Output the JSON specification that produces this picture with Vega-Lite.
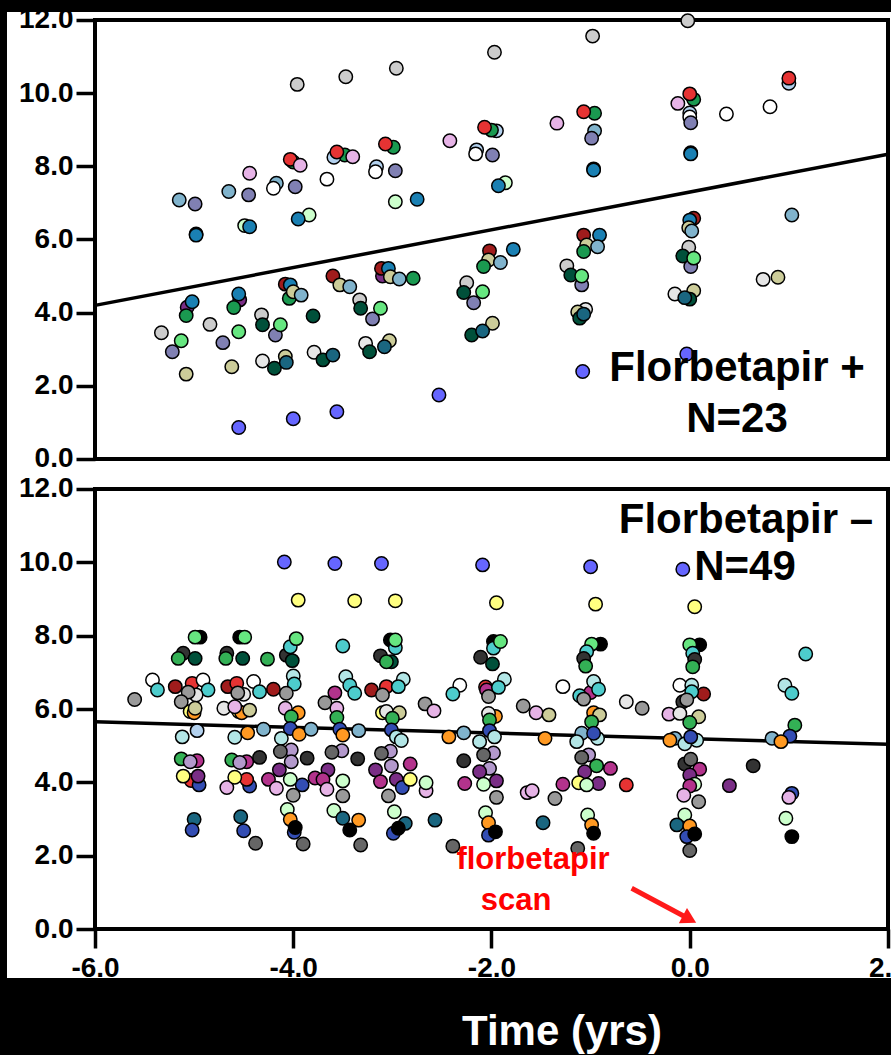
{
"$schema":"https://vega.github.io/schema/vega-lite/v6.json",
"width":891,"height":1055,"autosize":{"type":"none"},"padding":0,
"background":"black",
"config":{"view":{"stroke":null},"axis":{"labelFont":"Liberation Sans","labelFontWeight":"bold","labelFontSize":28,"labelColor":"black","tickColor":"black","tickWidth":3.5,"tickSize":19,"domain":false,"grid":false,"labelFlush":false,"labelOverlap":false}},
"datasets":{
"top":[
{"x":-3.96,"y":10.24,"c":"gray"},{"x":-3.47,"y":10.45,"c":"gray"},{"x":-2.96,"y":10.68,"c":"gray"},{"x":-2.42,"y":8.70,"c":"pink"},
{"x":-2.99,"y":8.52,"c":"green"},{"x":-3.07,"y":8.61,"c":"red"},
{"x":-3.48,"y":8.31,"c":"green"},{"x":-3.59,"y":8.25,"c":"lightblue2"},{"x":-3.56,"y":8.39,"c":"red"},{"x":-3.40,"y":8.26,"c":"pink"},
{"x":-4.00,"y":8.12,"c":"green"},{"x":-4.03,"y":8.19,"c":"red"},{"x":-3.93,"y":8.03,"c":"pink"},
{"x":-4.44,"y":7.81,"c":"pink"},
{"x":-3.16,"y":7.99,"c":"lightblue2"},{"x":-3.17,"y":7.85,"c":"white"},{"x":-2.97,"y":7.88,"c":"purple"},
{"x":-3.66,"y":7.65,"c":"white"},
{"x":-4.65,"y":7.31,"c":"steel"},{"x":-4.45,"y":7.22,"c":"purple"},
{"x":-4.17,"y":7.54,"c":"steel"},{"x":-4.20,"y":7.40,"c":"white"},{"x":-3.98,"y":7.44,"c":"purple"},
{"x":-5.15,"y":7.08,"c":"steel"},{"x":-4.99,"y":6.97,"c":"purple"},
{"x":-2.97,"y":7.03,"c":"palegreen"},{"x":-2.75,"y":7.10,"c":"blue"},
{"x":-4.98,"y":6.15,"c":"black"},{"x":-4.98,"y":6.12,"c":"blue"},
{"x":-4.49,"y":6.38,"c":"palegreen"},{"x":-4.44,"y":6.35,"c":"blue"},
{"x":-3.84,"y":6.67,"c":"palegreen"},{"x":-3.95,"y":6.56,"c":"blue"},
{"x":-5.07,"y":4.15,"c":"darkpurple"},{"x":-5.02,"y":4.30,"c":"blue"},{"x":-5.08,"y":3.92,"c":"green"},
{"x":-5.33,"y":3.45,"c":"gray"},{"x":-5.13,"y":3.23,"c":"lightgreen"},{"x":-5.22,"y":2.93,"c":"purple"},{"x":-5.08,"y":2.32,"c":"khaki"},
{"x":-4.84,"y":3.68,"c":"gray"},
{"x":-4.54,"y":4.35,"c":"darkpurple"},{"x":-4.55,"y":4.51,"c":"blue"},{"x":-4.60,"y":4.14,"c":"green"},
{"x":-4.55,"y":3.48,"c":"lightgreen"},{"x":-4.71,"y":3.18,"c":"purple"},{"x":-4.62,"y":2.52,"c":"khaki"},
{"x":-4.32,"y":3.94,"c":"gray"},{"x":-4.18,"y":3.39,"c":"purple"},{"x":-4.31,"y":3.67,"c":"darkgreen"},{"x":-4.13,"y":3.67,"c":"lightgreen"},
{"x":-4.31,"y":2.68,"c":"lightgray"},{"x":-4.08,"y":2.80,"c":"khaki"},{"x":-4.19,"y":2.48,"c":"darkgreen"},{"x":-4.07,"y":2.64,"c":"teal"},
{"x":-4.08,"y":4.78,"c":"darkred"},{"x":-4.03,"y":4.76,"c":"blue"},{"x":-4.04,"y":4.39,"c":"green"},{"x":-4.00,"y":4.57,"c":"khaki"},{"x":-3.92,"y":4.48,"c":"steel"},
{"x":-3.80,"y":3.91,"c":"darkgreen"},
{"x":-3.79,"y":2.92,"c":"lightgray"},{"x":-3.70,"y":2.71,"c":"darkgreen"},{"x":-3.60,"y":2.84,"c":"teal"},
{"x":-3.60,"y":5.00,"c":"darkred"},{"x":-3.53,"y":4.76,"c":"khaki"},{"x":-3.43,"y":4.71,"c":"steel"},
{"x":-3.33,"y":4.35,"c":"gray"},{"x":-3.20,"y":3.83,"c":"purple"},{"x":-3.32,"y":4.12,"c":"darkgreen"},{"x":-3.12,"y":4.12,"c":"lightgreen"},
{"x":-3.27,"y":3.16,"c":"lightgray"},{"x":-3.03,"y":3.23,"c":"khaki"},{"x":-3.23,"y":2.93,"c":"darkgreen"},{"x":-3.08,"y":3.07,"c":"teal"},
{"x":-3.10,"y":5.00,"c":"darkpurple"},{"x":-3.11,"y":5.21,"c":"darkred"},{"x":-3.04,"y":5.21,"c":"blue"},{"x":-3.02,"y":4.98,"c":"khaki"},{"x":-2.93,"y":4.92,"c":"steel"},{"x":-2.79,"y":4.94,"c":"green"},
{"x":-4.55,"y":0.86,"c":"peri"},{"x":-4.00,"y":1.10,"c":"peri"},{"x":-3.56,"y":1.29,"c":"peri"},{"x":-2.53,"y":1.75,"c":"peri"},
{"x":-1.97,"y":11.12,"c":"gray"},{"x":-0.98,"y":11.56,"c":"gray"},{"x":-0.02,"y":11.98,"c":"gray"},
{"x":-1.95,"y":8.97,"c":"lightblue2"},{"x":-2.00,"y":8.99,"c":"green"},{"x":-2.07,"y":9.07,"c":"red"},
{"x":-2.15,"y":8.45,"c":"lightblue2"},{"x":-2.16,"y":8.34,"c":"white"},{"x":-1.99,"y":8.31,"c":"purple"},
{"x":-1.34,"y":9.18,"c":"pink"},
{"x":-0.96,"y":9.45,"c":"green"},{"x":-1.07,"y":9.49,"c":"red"},
{"x":-0.96,"y":8.97,"c":"steel"},{"x":-0.99,"y":8.77,"c":"purple"},
{"x":-0.97,"y":7.93,"c":"black"},{"x":-0.97,"y":7.90,"c":"blue"},
{"x":-1.86,"y":7.55,"c":"palegreen"},{"x":-1.93,"y":7.47,"c":"blue"},
{"x":0.04,"y":9.83,"c":"green"},{"x":0.00,"y":9.98,"c":"red"},{"x":-0.12,"y":9.72,"c":"pink"},
{"x":0.00,"y":9.46,"c":"lightblue2"},{"x":0.00,"y":9.35,"c":"white"},{"x":0.01,"y":9.19,"c":"purple"},
{"x":0.01,"y":8.37,"c":"black"},{"x":0.01,"y":8.34,"c":"blue"},
{"x":0.37,"y":9.43,"c":"white"},{"x":0.81,"y":9.63,"c":"white"},
{"x":1.00,"y":10.27,"c":"lightblue2"},{"x":1.00,"y":10.41,"c":"red"},
{"x":-2.02,"y":5.69,"c":"darkred"},{"x":-2.03,"y":5.44,"c":"khaki"},{"x":-2.08,"y":5.26,"c":"green"},{"x":-1.91,"y":5.37,"c":"steel"},
{"x":-1.78,"y":5.73,"c":"blue"},
{"x":-2.25,"y":4.82,"c":"gray"},{"x":-2.28,"y":4.55,"c":"darkgreen"},{"x":-2.18,"y":4.27,"c":"purple"},{"x":-2.09,"y":4.57,"c":"lightgreen"},
{"x":-1.99,"y":3.71,"c":"khaki"},{"x":-2.20,"y":3.39,"c":"darkgreen"},{"x":-2.09,"y":3.50,"c":"teal"},
{"x":-1.07,"y":6.12,"c":"darkred"},{"x":-0.91,"y":6.12,"c":"blue"},{"x":-1.04,"y":5.85,"c":"khaki"},{"x":-1.07,"y":5.67,"c":"green"},{"x":-0.93,"y":5.80,"c":"steel"},
{"x":-1.24,"y":5.28,"c":"gray"},{"x":-1.09,"y":4.76,"c":"purple"},{"x":-1.20,"y":5.03,"c":"darkgreen"},{"x":-1.09,"y":5.00,"c":"lightgreen"},
{"x":-1.05,"y":4.09,"c":"lightgray"},{"x":-1.13,"y":4.02,"c":"khaki"},{"x":-1.11,"y":3.85,"c":"darkgreen"},{"x":-1.07,"y":3.96,"c":"teal"},
{"x":0.04,"y":6.58,"c":"darkred"},{"x":0.00,"y":6.53,"c":"blue"},{"x":-0.01,"y":6.32,"c":"khaki"},{"x":0.02,"y":6.23,"c":"steel"},
{"x":0.01,"y":5.26,"c":"purple"},{"x":-0.01,"y":5.79,"c":"gray"},{"x":-0.07,"y":5.55,"c":"darkgreen"},{"x":0.04,"y":5.49,"c":"lightgreen"},
{"x":-0.15,"y":4.51,"c":"lightgray"},{"x":0.04,"y":4.60,"c":"khaki"},{"x":0.00,"y":4.37,"c":"darkgreen"},{"x":-0.05,"y":4.41,"c":"teal"},
{"x":1.03,"y":6.67,"c":"steel"},
{"x":0.74,"y":4.91,"c":"lightgray"},{"x":0.89,"y":4.97,"c":"khaki"},
{"x":-1.08,"y":2.39,"c":"peri"},{"x":-0.03,"y":2.87,"c":"peri"}
],
"bot":[
{"x":-4.09,"y":10.01,"c":"peri"},{"x":-3.58,"y":9.97,"c":"peri"},{"x":-3.11,"y":9.97,"c":"peri"},{"x":-2.09,"y":9.93,"c":"peri"},{"x":-1.00,"y":9.88,"c":"peri"},{"x":-0.07,"y":9.81,"c":"peri"},
{"x":-3.95,"y":8.97,"c":"yellow"},{"x":-3.38,"y":8.95,"c":"yellow"},{"x":-2.97,"y":8.95,"c":"yellow"},{"x":-1.95,"y":8.90,"c":"yellow"},{"x":-0.95,"y":8.86,"c":"yellow"},{"x":0.05,"y":8.79,"c":"yellow"},
{"x":-4.94,"y":7.96,"c":"black"},{"x":-4.99,"y":7.96,"c":"lightgreen"},
{"x":-5.11,"y":7.52,"c":"darkgray"},{"x":-5.16,"y":7.38,"c":"green2"},{"x":-4.99,"y":7.38,"c":"darkgreen"},
{"x":-5.42,"y":6.79,"c":"white"},{"x":-5.37,"y":6.52,"c":"turquoise"},
{"x":-5.19,"y":6.61,"c":"darkred"},{"x":-5.02,"y":6.70,"c":"red"},{"x":-4.91,"y":6.79,"c":"white"},{"x":-4.86,"y":6.52,"c":"turquoise"},
{"x":-4.98,"y":6.38,"c":"lightgray"},{"x":-5.06,"y":6.46,"c":"gray2"},{"x":-5.13,"y":6.20,"c":"gray2"},
{"x":-5.04,"y":5.93,"c":"yellow"},{"x":-5.00,"y":5.90,"c":"orange"},{"x":-4.99,"y":6.02,"c":"khaki"},
{"x":-5.60,"y":6.26,"c":"gray2"},
{"x":-5.12,"y":5.24,"c":"palecyan"},{"x":-4.97,"y":5.41,"c":"lightblue2"},
{"x":-5.13,"y":4.64,"c":"green2"},{"x":-4.97,"y":4.59,"c":"magenta"},{"x":-5.04,"y":4.56,"c":"lavender"},
{"x":-5.03,"y":4.05,"c":"red"},{"x":-5.11,"y":4.17,"c":"yellow"},{"x":-4.95,"y":3.93,"c":"royalblue"},{"x":-4.96,"y":4.17,"c":"darkpurple"},
{"x":-5.00,"y":2.99,"c":"teal"},{"x":-5.02,"y":2.70,"c":"royalblue"},
{"x":-4.54,"y":7.96,"c":"black"},{"x":-4.49,"y":7.96,"c":"lightgreen"},
{"x":-4.67,"y":7.52,"c":"darkgray"},{"x":-4.68,"y":7.38,"c":"green2"},{"x":-4.51,"y":7.38,"c":"darkgreen"},
{"x":-4.26,"y":7.36,"c":"green2"},
{"x":-4.66,"y":6.61,"c":"darkred"},{"x":-4.57,"y":6.70,"c":"red"},{"x":-4.40,"y":6.75,"c":"white"},{"x":-4.34,"y":6.47,"c":"turquoise"},
{"x":-4.50,"y":6.40,"c":"lightgray"},{"x":-4.56,"y":6.44,"c":"gray2"},
{"x":-4.55,"y":5.93,"c":"yellow"},{"x":-4.52,"y":5.90,"c":"orange"},{"x":-4.70,"y":6.02,"c":"lightgray"},{"x":-4.59,"y":6.06,"c":"pink"},{"x":-4.44,"y":5.97,"c":"khaki"},
{"x":-4.20,"y":6.54,"c":"darkred"},
{"x":-4.59,"y":5.23,"c":"palecyan"},{"x":-4.46,"y":5.35,"c":"orange"},{"x":-4.30,"y":5.45,"c":"steel"},
{"x":-4.62,"y":4.61,"c":"green2"},{"x":-4.47,"y":4.56,"c":"magenta"},{"x":-4.54,"y":4.54,"c":"lavender"},
{"x":-4.34,"y":4.68,"c":"darkgray"},
{"x":-4.67,"y":3.86,"c":"pink"},{"x":-4.44,"y":3.90,"c":"royalblue"},{"x":-4.47,"y":4.08,"c":"red"},{"x":-4.59,"y":4.14,"c":"yellow"},
{"x":-4.53,"y":3.06,"c":"teal"},{"x":-4.50,"y":2.68,"c":"royalblue"},
{"x":-4.38,"y":2.34,"c":"dimgray"},
{"x":-4.07,"y":7.47,"c":"darkgray"},{"x":-4.01,"y":7.32,"c":"darkgreen"},
{"x":-4.03,"y":7.70,"c":"turquoise"},{"x":-3.97,"y":7.92,"c":"lightgreen"},
{"x":-4.00,"y":6.90,"c":"palecyan"},{"x":-3.99,"y":6.68,"c":"turquoise"},
{"x":-4.07,"y":6.43,"c":"gray2"},
{"x":-4.08,"y":6.02,"c":"pink"},{"x":-3.95,"y":5.90,"c":"orange"},{"x":-4.02,"y":5.79,"c":"green2"},
{"x":-4.03,"y":5.47,"c":"royalblue"},
{"x":-4.12,"y":5.20,"c":"palecyan"},{"x":-3.94,"y":5.31,"c":"orange"},{"x":-3.82,"y":5.45,"c":"steel"},
{"x":-4.02,"y":4.88,"c":"lavender"},{"x":-4.13,"y":4.84,"c":"dimgray"},{"x":-3.86,"y":4.66,"c":"darkgray"},
{"x":-4.02,"y":4.56,"c":"lavender"},{"x":-4.14,"y":4.34,"c":"darkpurple"},
{"x":-4.25,"y":4.08,"c":"magenta"},{"x":-4.17,"y":3.84,"c":"pink"},{"x":-3.91,"y":3.93,"c":"royalblue"},{"x":-4.03,"y":4.08,"c":"palegreen"},{"x":-4.00,"y":3.65,"c":"gray2"},
{"x":-3.78,"y":4.12,"c":"magenta"},
{"x":-4.06,"y":3.26,"c":"palegreen"},{"x":-4.03,"y":2.99,"c":"orange"},{"x":-3.99,"y":2.64,"c":"royalblue"},{"x":-3.98,"y":2.77,"c":"black"},
{"x":-3.90,"y":2.32,"c":"dimgray"},
{"x":-3.50,"y":7.72,"c":"turquoise"},
{"x":-3.47,"y":6.88,"c":"palecyan"},{"x":-3.43,"y":6.65,"c":"turquoise"},{"x":-3.38,"y":6.43,"c":"turquoise"},
{"x":-3.58,"y":6.44,"c":"magenta"},
{"x":-3.68,"y":6.17,"c":"gray2"},
{"x":-3.56,"y":6.02,"c":"pink"},{"x":-3.56,"y":5.77,"c":"green2"},
{"x":-3.53,"y":5.45,"c":"royalblue"},{"x":-3.50,"y":5.29,"c":"orange"},{"x":-3.34,"y":5.41,"c":"steel"},
{"x":-3.51,"y":4.86,"c":"lavender"},{"x":-3.61,"y":4.82,"c":"dimgray"},
{"x":-3.35,"y":4.64,"c":"darkgray"},
{"x":-3.65,"y":4.34,"c":"darkpurple"},{"x":-3.70,"y":4.08,"c":"magenta"},{"x":-3.66,"y":3.81,"c":"pink"},
{"x":-3.50,"y":4.04,"c":"palegreen"},{"x":-3.50,"y":3.63,"c":"gray2"},
{"x":-3.59,"y":3.23,"c":"palegreen"},{"x":-3.50,"y":3.02,"c":"teal"},{"x":-3.34,"y":2.97,"c":"orange"},{"x":-3.43,"y":2.70,"c":"black"},
{"x":-3.32,"y":2.29,"c":"dimgray"},
{"x":-3.02,"y":7.88,"c":"black"},{"x":-2.97,"y":7.67,"c":"turquoise"},{"x":-2.97,"y":7.88,"c":"lightgreen"},
{"x":-3.12,"y":7.45,"c":"darkgray"},{"x":-3.01,"y":7.29,"c":"darkgreen"},{"x":-3.06,"y":7.29,"c":"green2"},
{"x":-3.21,"y":6.52,"c":"darkred"},{"x":-3.06,"y":6.61,"c":"red"},{"x":-2.89,"y":6.81,"c":"palecyan"},{"x":-2.94,"y":6.61,"c":"turquoise"},{"x":-3.10,"y":6.38,"c":"gray2"},
{"x":-3.10,"y":5.90,"c":"yellow"},{"x":-3.06,"y":5.93,"c":"lightgray"},{"x":-2.93,"y":5.90,"c":"khaki"},{"x":-3.00,"y":5.75,"c":"green2"},
{"x":-3.01,"y":5.43,"c":"royalblue"},{"x":-2.96,"y":5.24,"c":"palecyan"},{"x":-2.91,"y":5.14,"c":"palecyan"},
{"x":-3.02,"y":4.85,"c":"lavender"},{"x":-3.11,"y":4.79,"c":"dimgray"},{"x":-3.01,"y":4.45,"c":"lavender"},
{"x":-3.17,"y":4.34,"c":"darkpurple"},{"x":-3.12,"y":4.02,"c":"magenta"},
{"x":-2.96,"y":4.08,"c":"darkpurple"},{"x":-2.82,"y":4.50,"c":"magenta"},{"x":-2.90,"y":3.86,"c":"royalblue"},{"x":-2.82,"y":4.08,"c":"yellow"},
{"x":-2.66,"y":3.77,"c":"pink"},{"x":-2.66,"y":3.99,"c":"palegreen"},
{"x":-3.04,"y":3.63,"c":"gray2"},
{"x":-2.98,"y":3.20,"c":"palegreen"},{"x":-2.87,"y":2.88,"c":"teal"},{"x":-2.99,"y":2.61,"c":"royalblue"},{"x":-2.94,"y":2.75,"c":"black"},
{"x":-2.57,"y":2.97,"c":"teal"},
{"x":-2.67,"y":6.14,"c":"gray2"},{"x":-2.58,"y":5.95,"c":"pink"},
{"x":-2.39,"y":2.26,"c":"dimgray"},
{"x":-2.32,"y":6.65,"c":"white"},{"x":-2.39,"y":6.41,"c":"turquoise"},
{"x":-2.43,"y":5.24,"c":"orange"},{"x":-2.28,"y":5.35,"c":"steel"},
{"x":-2.28,"y":4.59,"c":"darkgray"},
{"x":-1.98,"y":7.84,"c":"black"},{"x":-1.98,"y":7.66,"c":"turquoise"},{"x":-1.91,"y":7.84,"c":"lightgreen"},
{"x":-2.11,"y":7.41,"c":"darkgray"},{"x":-1.99,"y":7.23,"c":"darkgreen"},
{"x":-2.06,"y":6.60,"c":"red"},{"x":-2.05,"y":6.52,"c":"magenta"},{"x":-2.03,"y":6.34,"c":"gray2"},{"x":-1.87,"y":6.81,"c":"palecyan"},{"x":-1.93,"y":6.59,"c":"turquoise"},
{"x":-1.96,"y":5.80,"c":"orange"},{"x":-2.03,"y":5.88,"c":"lightgray"},{"x":-2.02,"y":5.70,"c":"green2"},
{"x":-2.02,"y":5.41,"c":"royalblue"},{"x":-1.97,"y":5.24,"c":"palecyan"},{"x":-2.12,"y":5.11,"c":"palecyan"},
{"x":-1.98,"y":4.80,"c":"lavender"},{"x":-2.08,"y":4.75,"c":"dimgray"},{"x":-2.02,"y":4.38,"c":"lavender"},{"x":-2.12,"y":4.29,"c":"darkpurple"},
{"x":-2.27,"y":3.97,"c":"magenta"},{"x":-1.95,"y":4.04,"c":"darkpurple"},{"x":-2.08,"y":3.95,"c":"palegreen"},{"x":-1.95,"y":3.59,"c":"gray2"},
{"x":-2.06,"y":3.17,"c":"palegreen"},{"x":-2.03,"y":2.90,"c":"orange"},{"x":-2.03,"y":2.56,"c":"royalblue"},{"x":-1.96,"y":2.65,"c":"black"},
{"x":-1.68,"y":6.08,"c":"gray2"},{"x":-1.64,"y":3.72,"c":"pink"},
{"x":-1.55,"y":5.90,"c":"pink"},{"x":-1.42,"y":5.84,"c":"khaki"},
{"x":-1.46,"y":5.20,"c":"orange"},
{"x":-1.36,"y":3.56,"c":"gray2"},{"x":-1.59,"y":3.77,"c":"pink"},
{"x":-1.48,"y":2.90,"c":"teal"},
{"x":-1.28,"y":6.61,"c":"white"},
{"x":-0.90,"y":7.77,"c":"black"},{"x":-0.99,"y":7.77,"c":"lightgreen"},
{"x":-1.04,"y":7.56,"c":"turquoise"},{"x":-1.07,"y":7.38,"c":"darkgray"},{"x":-1.05,"y":7.17,"c":"green2"},
{"x":-1.00,"y":6.45,"c":"magenta"},{"x":-0.97,"y":6.75,"c":"palecyan"},{"x":-0.92,"y":6.54,"c":"turquoise"},{"x":-1.11,"y":6.36,"c":"turquoise"},{"x":-1.07,"y":6.27,"c":"gray2"},
{"x":-0.97,"y":5.90,"c":"orange"},{"x":-0.91,"y":5.84,"c":"khaki"},{"x":-0.99,"y":5.65,"c":"green2"},
{"x":-1.09,"y":5.34,"c":"steel"},{"x":-0.93,"y":5.20,"c":"palecyan"},{"x":-0.97,"y":5.34,"c":"royalblue"},{"x":-1.14,"y":5.11,"c":"palecyan"},
{"x":-1.02,"y":4.75,"c":"lavender"},{"x":-1.09,"y":4.68,"c":"dimgray"},
{"x":-0.94,"y":4.45,"c":"green2"},{"x":-0.80,"y":4.38,"c":"magenta"},{"x":-1.06,"y":4.29,"c":"darkpurple"},
{"x":-1.28,"y":3.95,"c":"magenta"},{"x":-1.12,"y":3.99,"c":"yellow"},{"x":-0.92,"y":3.97,"c":"darkpurple"},{"x":-1.04,"y":3.93,"c":"palegreen"},
{"x":-0.64,"y":3.93,"c":"red"},
{"x":-1.03,"y":3.11,"c":"palegreen"},{"x":-0.99,"y":2.84,"c":"orange"},{"x":-0.97,"y":2.61,"c":"black"},
{"x":-1.13,"y":2.20,"c":"dimgray"},
{"x":-0.64,"y":6.20,"c":"lightgray"},{"x":-0.48,"y":6.02,"c":"gray2"},
{"x":0.10,"y":7.75,"c":"black"},{"x":0.00,"y":7.75,"c":"lightgreen"},{"x":0.03,"y":7.52,"c":"turquoise"},{"x":0.05,"y":7.35,"c":"darkgray"},{"x":0.03,"y":7.15,"c":"green2"},
{"x":-0.10,"y":6.65,"c":"white"},{"x":0.02,"y":6.65,"c":"palecyan"},{"x":0.14,"y":6.41,"c":"darkred"},{"x":0.02,"y":6.47,"c":"turquoise"},{"x":-0.07,"y":6.20,"c":"darkgray"},{"x":-0.03,"y":6.25,"c":"gray2"},
{"x":-0.21,"y":5.86,"c":"pink"},{"x":-0.10,"y":5.88,"c":"lightgray"},{"x":0.09,"y":5.79,"c":"khaki"},{"x":0.00,"y":5.63,"c":"green2"},
{"x":-0.15,"y":5.20,"c":"steel"},{"x":-0.20,"y":5.15,"c":"orange"},{"x":0.07,"y":5.15,"c":"palecyan"},{"x":-0.05,"y":5.05,"c":"palecyan"},{"x":0.01,"y":5.24,"c":"royalblue"},
{"x":-0.05,"y":4.50,"c":"darkgray"},{"x":0.01,"y":4.63,"c":"dimgray"},{"x":0.10,"y":4.36,"c":"magenta"},{"x":0.00,"y":4.20,"c":"darkpurple"},
{"x":0.05,"y":3.95,"c":"palegreen"},{"x":0.00,"y":3.90,"c":"magenta"},{"x":-0.06,"y":3.65,"c":"pink"},{"x":0.09,"y":3.47,"c":"gray2"},
{"x":-0.05,"y":3.11,"c":"palegreen"},{"x":-0.13,"y":2.84,"c":"teal"},{"x":0.00,"y":2.81,"c":"orange"},{"x":-0.03,"y":2.52,"c":"royalblue"},{"x":0.05,"y":2.59,"c":"black"},{"x":0.00,"y":2.14,"c":"dimgray"},
{"x":0.64,"y":4.45,"c":"darkgray"},{"x":0.40,"y":3.91,"c":"darkpurple"},
{"x":1.17,"y":7.50,"c":"turquoise"},{"x":0.96,"y":6.65,"c":"palecyan"},{"x":1.03,"y":6.43,"c":"turquoise"},
{"x":1.06,"y":5.56,"c":"green2"},{"x":0.83,"y":5.20,"c":"steel"},{"x":1.01,"y":5.26,"c":"royalblue"},{"x":0.92,"y":5.11,"c":"orange"},
{"x":1.03,"y":3.70,"c":"royalblue"},{"x":1.00,"y":3.59,"c":"pink"},
{"x":0.97,"y":3.02,"c":"palegreen"},{"x":1.03,"y":2.52,"c":"black"}
]
},
"layer":[
{"layer":[
 {"data":{"values":[{}]},"mark":{"type":"rect","fill":"white"},
  "encoding":{
   "x":{"datum":-6.8878,"type":"quantitative","scale":{"domain":[-6.9584,2.0303],"nice":false,"zero":false},
        "axis":{"orient":"bottom","offset":-126,"values":[-6,-4,-2,0,2],"labelExpr":"replace(format(datum.value,'.1f'),'−','-')","labelPadding":6,"title":null,"zindex":1}},
   "x2":{"datum":2.0303},
   "y":{"datum":25.009,"type":"quantitative","scale":{"domain":[-3.436,25.336],"nice":false,"zero":false},
        "axis":{"orient":"left","offset":-95,"values":[0,2,4,6,8,10,12],"labelExpr":"replace(format(datum.value,'.1f'),'−','-')","labelPadding":3,"title":null,"zindex":1}},
   "y2":{"datum":-1.337}}},
 {"data":{"values":[{}]},"mark":{"type":"rect","fill":"white","stroke":"black","strokeWidth":4},
  "encoding":{"x":{"datum":-6,"type":"quantitative"},"x2":{"datum":2},"y":{"datum":0,"type":"quantitative"},"y2":{"datum":12}}},
 {"data":{"values":[{}]},"mark":{"type":"rule","color":"black","strokeWidth":3.5},
  "encoding":{"x":{"datum":-6,"type":"quantitative"},"x2":{"datum":2},"y":{"datum":5.65,"type":"quantitative"},"y2":{"datum":5.04}}},
 {"data":{"name":"bot"},"mark":{"type":"point","shape":"circle","filled":true,"size":180,"stroke":"black","strokeWidth":1.5,"opacity":1},
  "encoding":{"x":{"field":"x","type":"quantitative"},"y":{"field":"y","type":"quantitative"},
   "fill":{"field":"c","type":"nominal","legend":null,"scale":{"domain":["gray","gray2","dimgray","darkgray","black","lightgray","white","pink","red","darkred","green","green2","lightgreen","palegreen","darkgreen","khaki","lightblue2","steel","blue","teal","purple","darkpurple","lavender","magenta","peri","yellow","orange","turquoise","palecyan","royalblue"],
   "range":["#cccccc","#999999","#666666","#333333","#000000","#e6e6e6","#ffffff","#e6b3e6","#e63333","#a01c1c","#1a9950","#33b055","#66e680","#ccffcc","#00503a","#cccc99","#b3d1ee","#80b3cc","#1a80b3","#1a6680","#8080b3","#7a2e86","#b399cc","#b3338c","#6666ff","#ffff80","#ff9922","#4dcccc","#b3e6e6","#334db3"]}}}},
 {"data":{"values":[{}]},"mark":{"type":"text","text":"Florbetapir –","font":"Liberation Sans","fontWeight":"bold","fontSize":42,"align":"center","baseline":"alphabetic","color":"black"},
  "encoding":{"x":{"datum":0.567,"type":"quantitative"},"y":{"datum":10.80,"type":"quantitative"}}},
 {"data":{"values":[{}]},"mark":{"type":"text","text":"N=49","font":"Liberation Sans","fontWeight":"bold","fontSize":42,"align":"center","baseline":"alphabetic","color":"black"},
  "encoding":{"x":{"datum":0.557,"type":"quantitative"},"y":{"datum":9.52,"type":"quantitative"}}},
 {"data":{"values":[{}]},"mark":{"type":"text","text":"florbetapir","font":"Liberation Sans","fontWeight":"bold","fontSize":31,"align":"center","baseline":"alphabetic","color":"#ff0000"},
  "encoding":{"x":{"datum":-1.581,"type":"quantitative"},"y":{"datum":1.63,"type":"quantitative"}}},
 {"data":{"values":[{}]},"mark":{"type":"text","text":"scan","font":"Liberation Sans","fontWeight":"bold","fontSize":31,"align":"center","baseline":"alphabetic","color":"#ff0000"},
  "encoding":{"x":{"datum":-1.753,"type":"quantitative"},"y":{"datum":0.52,"type":"quantitative"}}},
 {"data":{"values":[{}]},"mark":{"type":"rule","color":"#ff1a1a","strokeWidth":5},
  "encoding":{"x":{"datum":-0.586,"type":"quantitative"},"x2":{"datum":-0.057},"y":{"datum":1.11,"type":"quantitative"},"y2":{"datum":0.35}}},
 {"data":{"values":[{}]},"mark":{"type":"point","shape":"triangle-up","filled":true,"color":"#ff1a1a","size":300,"angle":118,"opacity":1},
  "encoding":{"x":{"datum":-0.002,"type":"quantitative"},"y":{"datum":0.27,"type":"quantitative"}}},
 {"data":{"values":[{}]},"mark":{"type":"text","text":"Time (yrs)","font":"Liberation Sans","fontWeight":"bold","fontSize":42,"align":"center","baseline":"alphabetic","color":"white"},
  "encoding":{"x":{"datum":-1.289,"type":"quantitative"},"y":{"datum":-3.164,"type":"quantitative"}}}
]},
{"layer":[
 {"data":{"values":[{}]},"mark":{"type":"rect","fill":"white","stroke":"black","strokeWidth":4},
  "encoding":{"x":{"datum":-6,"type":"quantitative","scale":{"domain":[-6.9584,2.0303],"nice":false,"zero":false}},"x2":{"datum":2},
   "y":{"datum":0,"type":"quantitative","scale":{"domain":[-16.292,12.5467],"nice":false,"zero":false},
        "axis":{"orient":"left","offset":-95,"values":[0,2,4,6,8,10,12],"labelExpr":"replace(format(datum.value,'.1f'),'−','-')","labelPadding":3,"title":null,"zindex":1}},
   "y2":{"datum":12}}},
 {"data":{"values":[{}]},"mark":{"type":"rule","color":"black","strokeWidth":3.5},
  "encoding":{"x":{"datum":-6,"type":"quantitative"},"x2":{"datum":2},"y":{"datum":4.2,"type":"quantitative"},"y2":{"datum":8.33}}},
 {"data":{"name":"top"},"mark":{"type":"point","shape":"circle","filled":true,"size":180,"stroke":"black","strokeWidth":1.5,"opacity":1},
  "encoding":{"x":{"field":"x","type":"quantitative"},"y":{"field":"y","type":"quantitative"},
   "fill":{"field":"c","type":"nominal","legend":null,"scale":{"domain":["gray","gray2","dimgray","darkgray","black","lightgray","white","pink","red","darkred","green","green2","lightgreen","palegreen","darkgreen","khaki","lightblue2","steel","blue","teal","purple","darkpurple","lavender","magenta","peri","yellow","orange","turquoise","palecyan","royalblue"],
   "range":["#cccccc","#999999","#666666","#333333","#000000","#e6e6e6","#ffffff","#e6b3e6","#e63333","#a01c1c","#1a9950","#33b055","#66e680","#ccffcc","#00503a","#cccc99","#b3d1ee","#80b3cc","#1a80b3","#1a6680","#8080b3","#7a2e86","#b399cc","#b3338c","#6666ff","#ffff80","#ff9922","#4dcccc","#b3e6e6","#334db3"]}}}},
 {"data":{"values":[{}]},"mark":{"type":"text","text":"Florbetapir +","font":"Liberation Sans","fontWeight":"bold","fontSize":42,"align":"center","baseline":"alphabetic","color":"black"},
  "encoding":{"x":{"datum":0.477,"type":"quantitative"},"y":{"datum":2.13,"type":"quantitative"}}},
 {"data":{"values":[{}]},"mark":{"type":"text","text":"N=23","font":"Liberation Sans","fontWeight":"bold","fontSize":42,"align":"center","baseline":"alphabetic","color":"black"},
  "encoding":{"x":{"datum":0.477,"type":"quantitative"},"y":{"datum":0.75,"type":"quantitative"}}}
]}
],
"resolve":{"scale":{"y":"independent"}}
}
